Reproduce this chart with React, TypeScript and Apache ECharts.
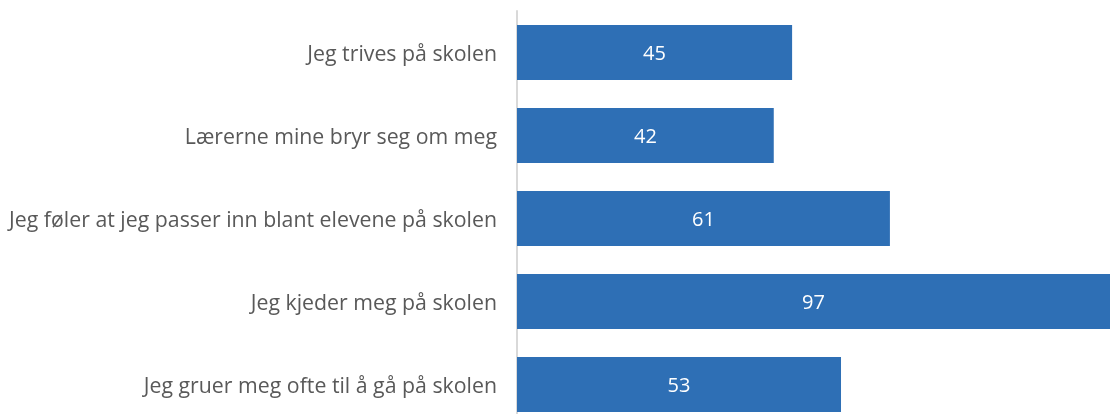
import React, { useEffect, useRef } from "react";
import * as echarts from "echarts";

const categories = [
  "Jeg trives på skolen",
  "Lærerne mine bryr seg om meg",
  "Jeg føler at jeg passer inn blant elevene på skolen",
  "Jeg kjeder meg på skolen",
  "Jeg gruer meg ofte til å gå på skolen",
];
const values = [45, 42, 61, 97, 53];

export default function App() {
  const ref = useRef<HTMLDivElement>(null);
  useEffect(() => {
    document.body.style.margin = "0";
    document.body.style.overflow = "hidden";
    const chart = echarts.init(ref.current!, null, { renderer: "svg" });
    chart.setOption({
      animation: false,
      grid: { left: 517, right: 2, top: 11, bottom: 4, containLabel: false },
      xAxis: {
        type: "value",
        min: 0,
        max: 97,
        show: false,
      },
      yAxis: {
        type: "category",
        data: categories,
        inverse: true,
        axisLine: { show: true, lineStyle: { color: "#d9d9d9", width: 2 } },
        axisTick: { show: false },
        axisLabel: {
          color: "#595959",
          fontSize: 21.3,
          fontFamily: "'Open Sans', sans-serif",
          margin: 20,
        },
      },
      series: [
        {
          type: "bar",
          data: values,
          barWidth: 55,
          itemStyle: { color: "#2e6fb5" },
          label: {
            show: true,
            position: "inside",
            color: "#ffffff",
            fontSize: 20,
            fontFamily: "'Open Sans', sans-serif",
          },
        },
      ],
    });
    return () => chart.dispose();
  }, []);
  return (
    <div
      ref={ref}
      style={{ position: "fixed", left: 0, top: 0, width: 1112, height: 430 }}
    />
  );
}
